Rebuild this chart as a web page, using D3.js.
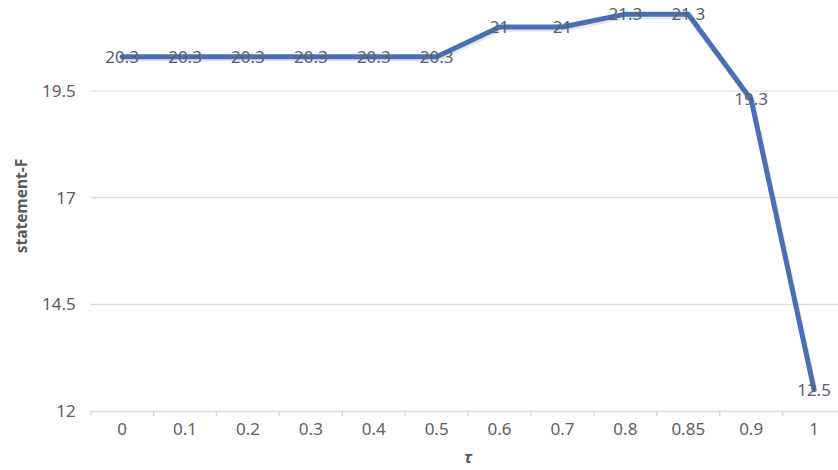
<!DOCTYPE html>
<html><head><meta charset="utf-8">
<script src="https://cdn.jsdelivr.net/npm/d3@7"></script>
<style>body{margin:0;background:#fff;}svg{display:block;}</style>
</head><body>
<svg id="chart" width="838" height="470"></svg>
<script>
const categories = ["0","0.1","0.2","0.3","0.4","0.5","0.6","0.7","0.8","0.85","0.9","1"];
const values = [20.3,20.3,20.3,20.3,20.3,20.3,21,21,21.3,21.3,19.3,12.5];
const labels = ["20.3","20.3","20.3","20.3","20.3","20.3","21","21","21.3","21.3","19.3","12.5"];
const yTicks = [12,14.5,17,19.5];
const yTickLabels = ["12","14.5","17","19.5"];

const svg = d3.select("#chart");
const font = "'Noto Sans', 'Open Sans', sans-serif";
const x = d3.scaleBand().domain(categories).range([90.7, 845.5]).padding(0);
const y = d3.scaleLinear().domain([12, 22]).range([411, -15.7]);

// gridlines
svg.append("g").selectAll("line").data(yTicks.slice(1)).join("line")
  .attr("x1", 90.7).attr("x2", 845.5)
  .attr("y1", d => y(d)).attr("y2", d => y(d))
  .attr("stroke", "#d9d9d9").attr("stroke-width", 1.2);

// x axis
const xAxis = d3.axisBottom(x).tickSize(0).tickPadding(12);
const gx = svg.append("g").attr("transform", `translate(0,${y(12)})`).call(xAxis);
gx.select(".domain").attr("stroke", "#d9d9d9").attr("stroke-width", 1.5);
gx.selectAll("text").attr("font-family", font).attr("font-size", 17).attr("fill", "#606060");
// boundary ticks
const bounds = categories.map(c => x(c)).concat([x(categories[categories.length-1]) + x.bandwidth()]);
gx.append("g").selectAll("line").data(bounds).join("line")
  .attr("x1", d => d).attr("x2", d => d).attr("y1", 0).attr("y2", 5)
  .attr("stroke", "#d9d9d9").attr("stroke-width", 1.5);

// y axis labels
const yAxis = d3.axisLeft(y).tickValues(yTicks).tickFormat((d,i) => yTickLabels[i]).tickSize(0).tickPadding(15);
const gy = svg.append("g").attr("transform", `translate(90.7,0)`).call(yAxis);
gy.select(".domain").remove();
gy.selectAll("text").attr("font-family", font).attr("font-size", 17).attr("fill", "#606060");

// line
const cx = d => x(d) + x.bandwidth() / 2;
const line = d3.line().x((d,i) => cx(categories[i])).y(d => y(d));
svg.append("path").datum(values).attr("d", line)
  .attr("fill", "none").attr("stroke", "rgba(0,0,0,0.10)").attr("stroke-width", 5.5)
  .attr("stroke-linejoin", "round").attr("transform", "translate(1,2)");
svg.append("path").datum(values).attr("d", line)
  .attr("fill", "none").attr("stroke", "#4a6fb5").attr("stroke-width", 5)
  .attr("stroke-linejoin", "round").attr("stroke-linecap", "round");

// data labels
svg.append("g").selectAll("text").data(values).join("text")
  .attr("x", (d,i) => cx(categories[i])).attr("y", d => y(d))
  .attr("dy", "0.35em").attr("text-anchor", "middle")
  .attr("font-family", font).attr("font-size", 17).attr("fill", "#5a5f6a")
  .text((d,i) => labels[i]);

// axis titles
svg.append("text").attr("x", 468).attr("y", 457).attr("dy", "0.35em")
  .attr("text-anchor", "middle").attr("font-family", font).attr("font-size", 16)
  .attr("font-weight", "bold").attr("font-style", "italic").attr("fill", "#595959").text("τ");
svg.append("text").attr("transform", "translate(22,206) rotate(-90)").attr("dy", "0.35em")
  .attr("text-anchor", "middle").attr("font-family", font).attr("font-size", 15.5)
  .attr("font-weight", "bold").attr("fill", "#595959").text("statement-F");
</script>
</body></html>
